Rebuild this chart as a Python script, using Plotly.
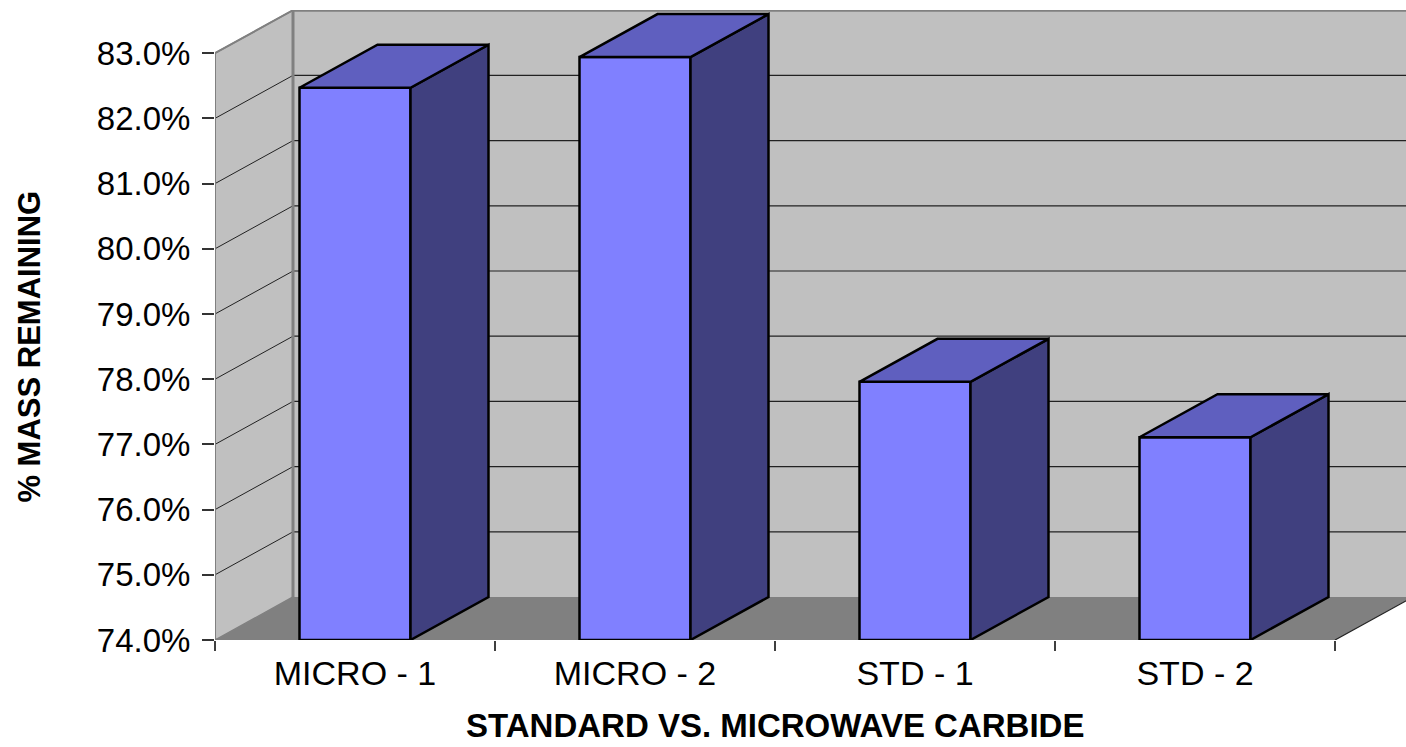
import plotly.graph_objects as go

# ---- data ----
categories = ["MICRO - 1", "MICRO - 2", "STD - 1", "STD - 2"]
mass_remaining = [0.8247, 0.8294, 0.7796, 0.7711]
y_ticks = [0.74, 0.75, 0.76, 0.77, 0.78, 0.79, 0.80, 0.81, 0.82, 0.83]

# ---- geometry / style ----
W, H = 1406, 747
ML, MR, MT, MB = 215, 0, 10, 107
PX_PER_CAT = 280.0
PX_PER_PCT = 65.2
DEPTH_PX = (78, 43)
BAR_W = 111 / PX_PER_CAT

base = y_ticks[0]
top = y_ticks[-1]
dx = DEPTH_PX[0] / PX_PER_CAT
dy = DEPTH_PX[1] / PX_PER_PCT / 100.0
plot_w = W - ML - MR
plot_h = H - MT - MB
x0 = -0.5
x1 = len(categories) - 0.5
x_range = [x0, x0 + plot_w / PX_PER_CAT]
y_range = [base, base + plot_h / PX_PER_PCT / 100.0]

FRONT = "#8080ff"
TOP = "#5f5fbf"
SIDE = "#40407f"
WALL = "#c0c0c0"
FLOOR = "#808080"
EDGE = "#808080"

shapes = []
# back wall
shapes.append(dict(type="rect", xref="x", yref="y", x0=x0 + dx, x1=x1 + dx,
                   y0=base + dy, y1=top + dy, fillcolor=WALL,
                   line=dict(width=0), layer="below"))
# side wall
shapes.append(dict(type="path", xref="x", yref="y",
                   path=f"M{x0},{base} L{x0+dx},{base+dy} L{x0+dx},{top+dy} L{x0},{top} Z",
                   fillcolor=WALL, line=dict(color=EDGE, width=1.5), layer="below"))
# floor
shapes.append(dict(type="path", xref="x", yref="y",
                   path=f"M{x0},{base} L{x1},{base} L{x1+dx},{base+dy} L{x0+dx},{base+dy} Z",
                   fillcolor=FLOOR, line=dict(width=0), layer="below"))
# gridlines on back wall and side wall
for t in y_ticks[1:-1]:
    shapes.append(dict(type="line", xref="x", yref="y", x0=x0 + dx, x1=x1 + dx,
                       y0=t + dy, y1=t + dy, line=dict(color="#222222", width=1.2),
                       layer="below"))
    shapes.append(dict(type="line", xref="x", yref="y", x0=x0, x1=x0 + dx,
                       y0=t, y1=t + dy, line=dict(color="#222222", width=1),
                       layer="below"))
# top edges of walls
shapes.append(dict(type="line", xref="x", yref="y", x0=x0 + dx, x1=x1 + dx,
                   y0=top + dy, y1=top + dy, line=dict(color=EDGE, width=3), layer="below"))
shapes.append(dict(type="line", xref="x", yref="y", x0=x0, x1=x0 + dx,
                   y0=top, y1=top + dy, line=dict(color=EDGE, width=2), layer="below"))
# back-left corner
shapes.append(dict(type="line", xref="x", yref="y", x0=x0 + dx, x1=x0 + dx,
                   y0=base + dy, y1=top + dy, line=dict(color=EDGE, width=3), layer="below"))
# left edge of side wall
shapes.append(dict(type="line", xref="x", yref="y", x0=x0, x1=x0,
                   y0=base, y1=top, line=dict(color=EDGE, width=2), layer="below"))
# floor edges
shapes.append(dict(type="line", xref="x", yref="y", x0=x0, x1=x1,
                   y0=base, y1=base, line=dict(color=EDGE, width=3), layer="below"))
shapes.append(dict(type="line", xref="x", yref="y", x0=x1, x1=x1 + dx,
                   y0=base, y1=base + dy, line=dict(color="#222222", width=1.2), layer="below"))

fig = go.Figure()
xs = list(range(len(categories)))

# front faces
fig.add_trace(go.Bar(x=xs, y=[v - base for v in mass_remaining], base=base,
                     width=BAR_W, marker=dict(color=FRONT, line=dict(color="black", width=2.5)),
                     showlegend=False, hoverinfo="skip"))

# side and top faces
for xi, v in zip(xs, mass_remaining):
    xl = xi - BAR_W / 2
    xr = xi + BAR_W / 2
    fig.add_trace(go.Scatter(
        x=[xr, xr + dx, xr + dx, xr, xr],
        y=[base, base + dy, v + dy, v, base],
        fill="toself", fillcolor=SIDE, mode="lines",
        line=dict(color="black", width=2.5), showlegend=False, hoverinfo="skip"))
    fig.add_trace(go.Scatter(
        x=[xl, xl + dx, xr + dx, xr, xl],
        y=[v, v + dy, v + dy, v, v],
        fill="toself", fillcolor=TOP, mode="lines",
        line=dict(color="black", width=2.5), showlegend=False, hoverinfo="skip"))

FONT = "Liberation Sans, Arial, sans-serif"

fig.update_layout(
    width=W, height=H,
    margin=dict(l=ML, r=MR, t=MT, b=MB, pad=0),
    paper_bgcolor="white", plot_bgcolor="white",
    shapes=shapes,
    font=dict(family=FONT, color="black"),
    xaxis=dict(range=x_range, tickvals=xs, ticktext=categories, ticks="",
               showgrid=False, zeroline=False, showline=False,
               tickfont=dict(family=FONT, size=34, color="black"),
               ticklabelstandoff=10,
               minor=dict(tickvals=[x0 + i for i in range(len(categories) + 1)],
                          ticks="outside", ticklen=10, tickwidth=1.5,
                          tickcolor="#404040", showgrid=False)),
    yaxis=dict(range=y_range, tickvals=y_ticks, tickformat=".1%", ticks="outside",
               ticklen=12, tickwidth=1.5, tickcolor="#333333",
               showgrid=False, zeroline=False, showline=False,
               tickfont=dict(family=FONT, size=33, color="black"),
               ticklabelstandoff=5),
    annotations=[
        dict(text="<b>% MASS REMAINING</b>", textangle=-90, xref="paper", yref="y",
             x=(30 - ML) / plot_w, y=(base + top) / 2, xanchor="center", yanchor="middle",
             showarrow=False, font=dict(family=FONT, size=31, color="black")),
        dict(text="<b>STANDARD VS. MICROWAVE CARBIDE</b>", xref="x", yref="paper",
             x=(x0 + x1) / 2, y=(plot_h - (746 - MT)) / plot_h, xanchor="center",
             yanchor="bottom", showarrow=False,
             font=dict(family=FONT, size=33, color="black")),
    ],
)

fig.write_html("out.html")
